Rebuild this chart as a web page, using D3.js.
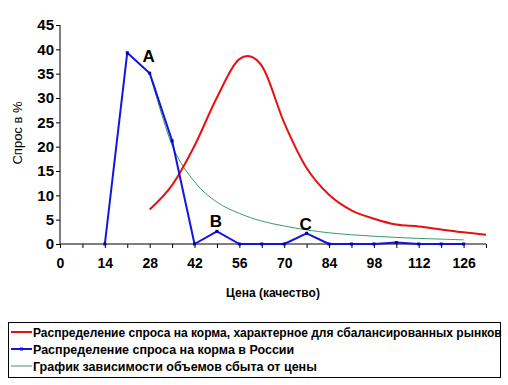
<!DOCTYPE html>
<html lang="ru">
<head>
<meta charset="UTF-8">
<title>Спрос</title>
<script src="https://cdn.jsdelivr.net/npm/d3@7/dist/d3.min.js"></script>
<style>
  body { margin: 0; background: #fff; }
  text { font-family: Arial, "Liberation Sans", sans-serif; fill: #000; }
</style>
</head>
<body>
<div id="chart"></div>
<script>
// data, price step is 7
let redX = [28, 35, 42, 49, 56, 63, 70, 77, 84, 91, 98, 105, 112, 119, 126, 133];
let redY = [7.1, 12.1, 20.2, 30.1, 38.0, 36.6, 24.9, 15.6, 10.1, 6.9, 5.2, 4.0, 3.6, 3.0, 2.4, 1.9];

let blueX = [14, 21, 28, 35, 42, 49, 56, 63, 70, 77, 84, 91, 98, 105, 112, 119, 126];
let blueY = [0, 39.3, 35.1, 21.2, 0, 2.6, 0, 0, 0, 2.2, 0, 0, 0, 0.3, 0, 0, 0];

let greenX = [28, 35, 42, 49, 56, 63, 70, 77, 84, 91, 98, 105, 112, 119, 126];
let greenY = [35.1, 20.3, 12.8, 8.6, 6.3, 4.7, 3.7, 2.9, 2.3, 1.9, 1.6, 1.35, 1.15, 1.0, 0.85];

let xTicks = [0, 14, 28, 42, 56, 70, 84, 98, 112, 126];
let yTicks = [0, 5, 10, 15, 20, 25, 30, 35, 40, 45];

let legendNames = [
  "Распределение спроса на корма, характерное для сбалансированных рынков",
  "Распределение спроса на корма в России",
  "График зависимости объемов сбыта от цены"
];
let notes = [{t: "A", x: 28, y: 38.5}, {t: "B", x: 49, y: 4.5}, {t: "C", x: 77, y: 4.0}];

let w = 508, h = 385;
let svg = d3.select("#chart").append("svg")
  .attr("width", w).attr("height", h);

let x = d3.scaleLinear().domain([0, 133]).range([60, 486]);
let y = d3.scaleLinear().domain([0, 45]).range([244, 25]);

// axes
let xAxis = d3.axisBottom(x)
  .tickValues(d3.range(0, 134, 7))
  .tickSize(4)
  .tickFormat(function(d){ return xTicks.indexOf(d) >= 0 ? d : ""; });
let gx = svg.append("g").attr("transform", "translate(0," + y(0) + ")").call(xAxis);
gx.select(".domain").attr("d", "M" + x(0) + ",0H" + x(133)).attr("stroke", "#000");
gx.selectAll(".tick line").attr("stroke", "#000");
gx.selectAll(".tick text")
  .attr("dy", "0.9em").attr("y", 11)
  .style("font-size", "14px").style("font-weight", "bold");

let yAxis = d3.axisLeft(y).tickValues(yTicks).tickSize(4);
let gy = svg.append("g").attr("transform", "translate(" + x(0) + ",0)").call(yAxis);
gy.select(".domain").attr("d", "M0," + y(45) + "V" + y(0)).attr("stroke", "#000");
gy.selectAll(".tick line").attr("stroke", "#000");
gy.selectAll(".tick text")
  .attr("x", -6)
  .style("font-size", "15px").style("font-weight", "bold");

// axis titles
svg.append("text")
  .attr("x", 273).attr("y", 297)
  .attr("text-anchor", "middle")
  .style("font-size", "12px").style("font-weight", "bold")
  .text("Цена (качество)");

svg.append("text")
  .attr("transform", "translate(22,133) rotate(-90)")
  .attr("text-anchor", "middle")
  .style("font-size", "13px")
  .text("Спрос в %");

// lines
function pts(xs, ys){
  return xs.map(function(d, i){ return [d, ys[i]]; });
}
let smooth = d3.line()
  .x(function(d){ return x(d[0]); })
  .y(function(d){ return y(d[1]); })
  .curve(d3.curveCatmullRom.alpha(0));
let straight = d3.line()
  .x(function(d){ return x(d[0]); })
  .y(function(d){ return y(d[1]); });

svg.append("path")
  .attr("d", smooth(pts(greenX, greenY)))
  .attr("fill", "none").attr("stroke", "#3c9a6c").attr("stroke-width", 1);

svg.append("path")
  .attr("d", smooth(pts(redX, redY)))
  .attr("fill", "none").attr("stroke", "#e81010").attr("stroke-width", 2);

svg.append("path")
  .attr("d", straight(pts(blueX, blueY)))
  .attr("fill", "none").attr("stroke", "#1414e0").attr("stroke-width", 2)
  .attr("stroke-linejoin", "round");

svg.selectAll(".bluept")
  .data(pts(blueX, blueY))
  .enter().append("rect")
  .attr("class", "bluept")
  .attr("x", function(d){ return x(d[0]) - 1.5; })
  .attr("y", function(d){ return y(d[1]) - 1.5; })
  .attr("width", 3).attr("height", 3)
  .attr("fill", "#0000b0");

// A B C labels
svg.selectAll(".note")
  .data(notes)
  .enter().append("text")
  .attr("class", "note")
  .attr("x", function(d){ return x(d.x) - 1; })
  .attr("y", function(d){ return y(d.y) + 5; })
  .attr("text-anchor", "middle")
  .style("font-size", "17px").style("font-weight", "bold")
  .text(function(d){ return d.t; });

// legend
let legend = svg.append("g");
legend.append("rect")
  .attr("x", 8.5).attr("y", 322.5)
  .attr("width", 492).attr("height", 55)
  .attr("fill", "#fff").attr("stroke", "#000");

let colors = ["#e81010", "#1414e0", "#3c9a6c"];
let widths = [2, 2, 1];
legendNames.forEach(function(name, i){
  let ly = 332 + i * 17;
  legend.append("line")
    .attr("x1", 11).attr("x2", 32)
    .attr("y1", ly).attr("y2", ly)
    .attr("stroke", colors[i]).attr("stroke-width", widths[i]);
  if (i == 1) {
    legend.append("rect")
      .attr("x", 20).attr("y", ly - 1.5)
      .attr("width", 3).attr("height", 3)
      .attr("fill", colors[i]);
  }
  legend.append("text")
    .attr("x", 33).attr("y", ly + 4.5)
    .style("font-size", i == 0 ? "12px" : "12.5px").style("font-weight", "bold")
    .text(name);
});
</script>
</body>
</html>
